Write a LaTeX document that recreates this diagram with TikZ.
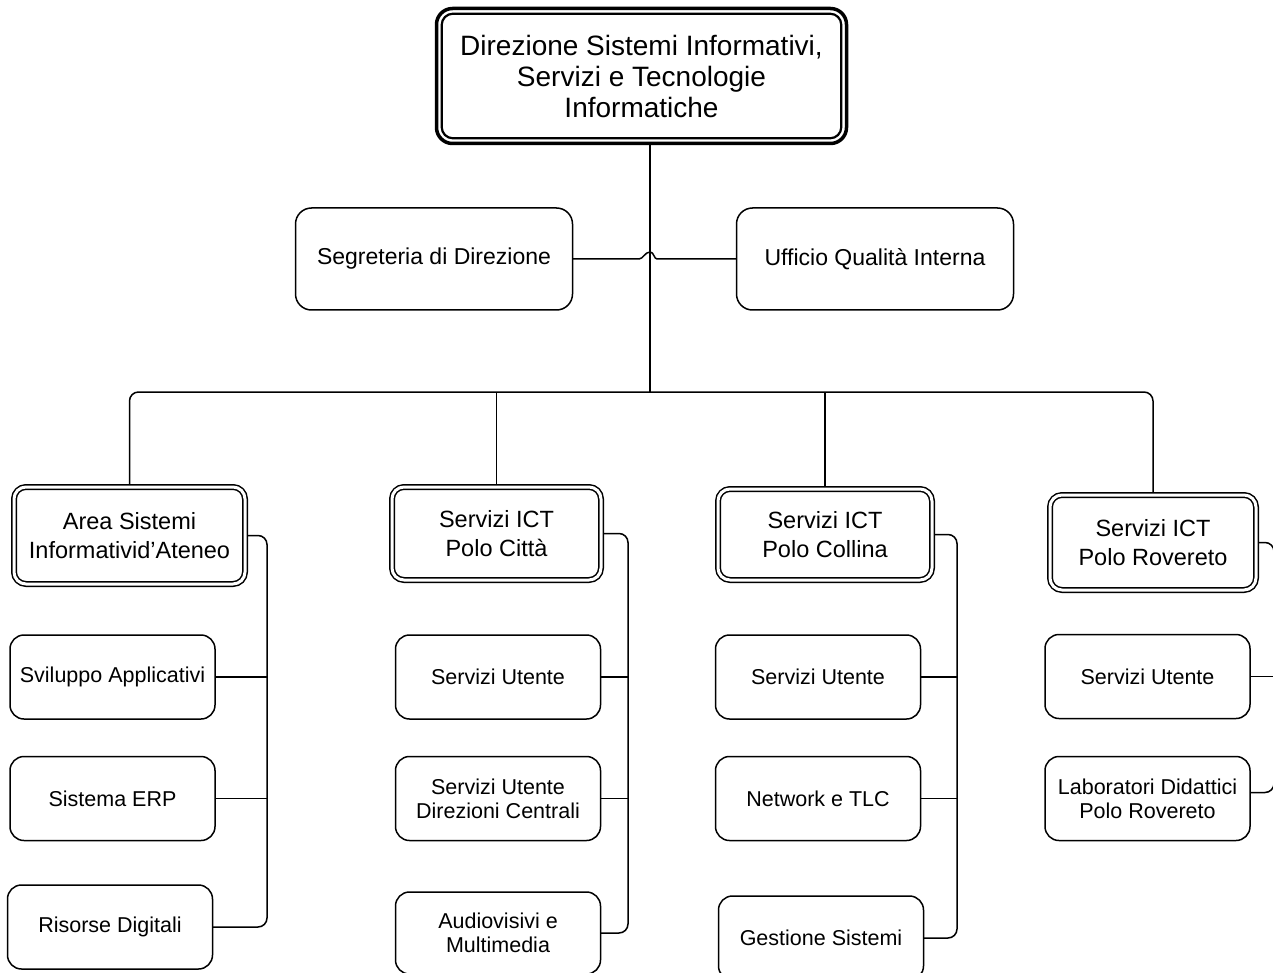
\documentclass[tikz,border=0pt]{standalone}
\usepackage{fontspec}
\setmainfont{Liberation Sans}
\begin{document}
\begin{tikzpicture}[x=1pt,y=-1pt,line width=1.5pt,
  box/.style={draw, rounded corners=14pt, align=center, inner sep=0pt, outer sep=0pt,
    minimum width=205pt, minimum height=84pt, font=\fontsize{21.5}{24}\selectfont},
  lvlone/.style={box, minimum width=277pt, minimum height=102pt, rounded corners=16pt,
    font=\fontsize{23}{27}\selectfont},
  lvltwo/.style={draw, double, double distance=3pt, line width=1.5pt, rounded corners=12pt,
    align=center, inner sep=0pt, outer sep=3pt, font=\fontsize{23.5}{29}\selectfont},
  topbox/.style={draw, line width=3.5pt, rounded corners=16pt, align=center, inner sep=0pt,
    outer sep=1.75pt, minimum width=410pt, minimum height=135pt,
    font=\fontsize{28}{31}\selectfont},
  conn/.style={line width=1.5pt, rounded corners=9pt}
]
\useasboundingbox (0,0) rectangle (1273,973);

% top
\node[topbox] (title) at (641.5,76) {Direzione Sistemi Informativi,\\ Servizi e Tecnologie\\ Informatiche};
\draw[line width=2.2pt, rounded corners=11pt] ([shift={(7,7)}]title.north west) rectangle ([shift={(-7,-7)}]title.south east);

% level one
\node[lvlone] (seg) at (434,259) {Segreteria di Direzione};
\node[lvlone] (uff) at (875,259) {Ufficio Qualità Interna};

% level two
\node[lvltwo, minimum width=231pt, minimum height=97pt] (area) at (129.5,535.5) {Area Sistemi\\ Informativid’Ateneo};
\node[lvltwo, minimum width=209pt, minimum height=93pt] (citta) at (496.5,533.5) {Servizi ICT\\ Polo Città};
\node[lvltwo, minimum width=214pt, minimum height=91pt] (coll) at (825,534.5) {Servizi ICT\\ Polo Collina};
\node[lvltwo, minimum width=206pt, minimum height=95pt] (rov) at (1153,542.5) {Servizi ICT\\ Polo Rovereto};

% level three
\node[box] (svil) at (112.5,677) {Sviluppo Applicativi};
\node[box] (erp) at (112.5,798.5) {Sistema ERP};
\node[box] (ris) at (110,927) {Risorse Digitali};

\node[box] (cu) at (498,677) {Servizi Utente};
\node[box] (cdc) at (498,798.5) {Servizi Utente\\ Direzioni Centrali};
\node[box, minimum height=82pt] (cav) at (498,933) {Audiovisivi e\\ Multimedia};

\node[box] (ku) at (818,677) {Servizi Utente};
\node[box] (knet) at (818,798.5) {Network e TLC};
\node[box] (kges) at (821,938) {Gestione Sistemi};

\node[box] (ru) at (1147.5,676.5) {Servizi Utente};
\node[box] (rlab) at (1147.5,798.5) {Laboratori Didattici\\ Polo Rovereto};

% coordinates
\coordinate (hub) at (650,392);
\coordinate (vA) at (267,0);
\coordinate (vC) at (628,0);
\coordinate (vK) at (957,0);
\coordinate (vR) at (1274,0);

% connectors
\draw (hub |- title.south) -- (hub);
\draw (seg.east) -- (639,259) .. controls (643,259) and (645,252) .. (650,252)
  .. controls (654,252) and (654,259) .. (657,259) -- (uff.west);
\draw[conn] (area.north) -- (area.north |- hub) -- (rov.north |- hub) -- (rov.north);
\draw (citta.north) -- (citta.north |- hub);
\draw (coll.north) -- (coll.north |- hub);

\draw[conn] (area.east) -- (area.east -| vA) -- (ris.east -| vA) -- (ris.east);
\draw (svil.east) -- (svil.east -| vA);
\draw (erp.east) -- (erp.east -| vA);

\draw[conn] (citta.east) -- (citta.east -| vC) -- (cav.east -| vC) -- (cav.east);
\draw (cu.east) -- (cu.east -| vC);
\draw (cdc.east) -- (cdc.east -| vC);

\draw[conn] (coll.east) -- (coll.east -| vK) -- (kges.east -| vK) -- (kges.east);
\draw (ku.east) -- (ku.east -| vK);
\draw (knet.east) -- (knet.east -| vK);

\draw[conn] (rov.east) -- (rov.east -| vR) -- ([yshift=6pt]rlab.east -| vR) -- ([yshift=6pt]rlab.east);
\draw (ru.east) -- (ru.east -| vR);
\end{tikzpicture}
\end{document}
